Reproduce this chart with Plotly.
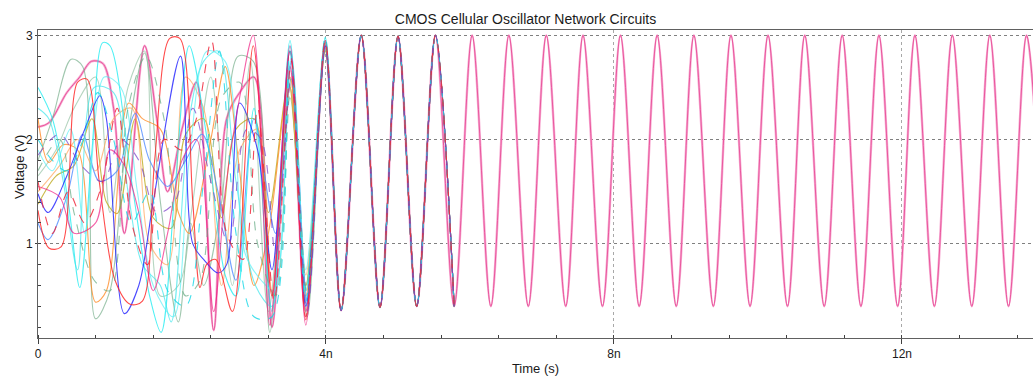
import plotly.graph_objects as go

# ---------------- data (time in ns, voltage in V) ----------------
# synchronized waveform (common to all cells after ~4 ns)
SYNC_PEAK_T = [3.99, 4.49, 5.00, 5.52, 6.03, 6.54, 7.06, 7.57, 8.09, 8.60, 9.11, 9.625,
               10.14, 10.65, 11.17, 11.68, 12.18, 12.70, 13.22, 13.73]
SYNC_PEAK_V = [2.98, 3.00, 2.99, 3.00, 3.00, 3.00, 3.00, 3.00, 3.00, 3.00, 3.00, 3.00,
               3.00, 3.00, 3.00, 3.00, 3.00, 3.00, 3.00, 3.00]
SYNC_TROUGH_T = [4.21, 4.75, 5.26, 5.78, 6.29, 6.81, 7.33, 7.84, 8.35, 8.865, 9.38, 9.89,
                 10.41, 10.92, 11.43, 11.94, 12.45, 12.97, 13.48, 13.99]
SYNC_TROUGH_V = [0.36, 0.39, 0.40, 0.40, 0.40, 0.40, 0.40, 0.40, 0.40, 0.40, 0.40, 0.40,
                 0.40, 0.40, 0.40, 0.40, 0.40, 0.40, 0.40, 0.40]
CHAOS_END_T = 5.78   # colored traces end here, only the pink cell continues

# individual cells during the unsynchronized phase
T_RED = [0, 0.15, 0.32, 0.55, 0.68, 0.85, 1.07, 1.28, 1.45, 1.62, 1.83, 1.97, 2.15, 2.25, 2.34, 2.47, 2.7, 2.99, 3.25, 3.5, 3.72, 3.99]
V_RED = [1.32, 0.96, 0.97, 2.55, 2.58, 1.6, 0.65, 0.42, 0.45, 1.8, 2.97, 2.97, 1.4, 0.58, 0.8, 0.85, 0.35, 2.9, 0.5, 2.85, 0.27, 2.95]
T_CYAN1 = [0, 0.2, 0.42, 0.58, 0.75, 0.9, 1.0, 1.3, 1.55, 1.71, 1.9, 2.1, 2.35, 2.6, 2.75, 3.0, 3.25, 3.5, 3.72, 3.99]
V_CYAN1 = [2.5, 2.2, 1.4, 0.58, 1.9, 2.93, 2.9, 1.6, 0.5, 0.15, 1.5, 2.9, 2.0, 0.7, 0.5, 2.3, 0.35, 2.95, 0.55, 2.98]
T_CYAN2 = [0, 0.15, 0.35, 0.55, 0.78, 1.05, 1.25, 1.45, 1.7, 1.85, 2.1, 2.3, 2.5, 2.75, 3.02, 3.25, 3.52, 3.74, 3.99]
V_CYAN2 = [2.3, 2.2, 1.6, 0.75, 2.5, 2.45, 1.5, 0.8, 0.6, 0.25, 2.2, 2.75, 2.85, 1.6, 0.6, 0.4, 2.8, 0.4, 2.95]
T_PINK = [0, 0.15, 0.4, 0.58, 0.74, 0.9, 1.05, 1.2, 1.48, 1.65, 1.8, 2.0, 2.2, 2.44, 2.62, 2.8, 3.0, 3.25, 3.5, 3.72, 3.99]
V_PINK = [2.12, 2.16, 2.45, 2.6, 2.75, 2.73, 2.3, 1.1, 2.9, 2.2, 1.5, 2.1, 2.55, 0.17, 2.2, 2.45, 2.6, 0.2, 2.7, 0.35, 2.9]
T_GREEN1 = [0, 0.2, 0.46, 0.62, 0.8, 1.0, 1.2, 1.48, 1.7, 1.95, 2.12, 2.3, 2.55, 2.78, 2.99, 3.22, 3.5, 3.74, 3.99]
V_GREEN1 = [1.8, 2.2, 2.77, 2.7, 0.28, 0.55, 1.8, 2.83, 1.4, 0.25, 1.2, 0.6, 1.4, 2.8, 2.75, 0.15, 2.5, 0.3, 2.92]
T_BLUE = [0, 0.14, 0.4, 0.65, 0.86, 0.95, 1.2, 1.4, 1.6, 1.98, 2.15, 2.3, 2.5, 2.62, 2.8, 3.05, 3.25, 3.5, 3.72, 3.99]
V_BLUE = [1.48, 1.3, 1.65, 2.1, 2.42, 2.2, 0.33, 0.6, 1.4, 2.8, 1.0, 0.85, 0.72, 0.8, 2.35, 1.9, 0.75, 2.85, 0.4, 2.9]
T_ORANGE = [0, 0.15, 0.35, 0.55, 0.8, 0.95, 1.26, 1.45, 1.7, 1.95, 2.1, 2.4, 2.6, 2.8, 3.0, 3.2, 3.5, 3.72, 3.99]
V_ORANGE = [2.2, 1.78, 1.95, 1.9, 0.44, 0.55, 2.35, 2.2, 2.1, 1.3, 1.1, 2.0, 2.7, 1.7, 0.6, 1.1, 2.6, 0.5, 2.88]
T_OLIVE = [0, 0.25, 0.5, 0.75, 0.95, 1.1, 1.35, 1.6, 1.85, 2.05, 2.3, 2.55, 2.75, 3.0, 3.2, 3.48, 3.72, 3.99]
V_OLIVE = [1.38, 1.65, 1.75, 2.2, 1.4, 1.29, 2.2, 1.25, 1.15, 2.05, 2.2, 1.25, 2.1, 2.2, 1.3, 2.55, 0.6, 2.85]
T_LBLUE = [0, 0.14, 0.4, 0.62, 0.85, 1.1, 1.35, 1.55, 1.8, 2.05, 2.28, 2.5, 2.75, 3.0, 3.3, 3.52, 3.74, 3.99]
V_LBLUE = [1.2, 1.04, 1.45, 2.05, 1.6, 1.7, 2.25, 1.8, 1.55, 1.8, 2.05, 1.5, 0.65, 2.2, 1.1, 2.75, 0.45, 2.9]
T_CYAN3 = [0, 0.2, 0.45, 0.65, 0.92, 1.15, 1.38, 1.6, 1.88, 2.1, 2.35, 2.6, 2.88, 3.1, 3.28, 3.5, 3.72, 3.99]
V_CYAN3 = [1.9, 1.7, 2.1, 1.1, 2.6, 2.5, 1.5, 0.6, 0.3, 1.8, 2.85, 2.75, 0.9, 0.65, 0.55, 2.9, 0.75, 2.97]
T_GREEN2 = [0, 0.3, 0.5, 0.78, 1.0, 1.25, 1.5, 1.75, 2.05, 2.25, 2.55, 2.8, 3.05, 3.3, 3.52, 3.74, 3.99]
V_GREEN2 = [1.7, 2.0, 1.3, 0.65, 0.55, 2.3, 2.8, 2.2, 0.5, 0.65, 2.4, 2.55, 1.0, 0.5, 2.6, 0.5, 2.9]
T_MAGENTA = [0, 0.3, 0.5, 0.8, 1.0, 1.2, 1.4, 1.6, 1.8, 2.0, 2.2, 2.44, 2.6, 2.8, 2.99, 3.22, 3.5, 3.72, 3.99]
V_MAGENTA = [1.55, 1.45, 1.1, 1.2, 1.9, 1.75, 1.3, 0.55, 1.1, 1.8, 2.0, 0.35, 1.5, 2.4, 3.0, 0.22, 2.9, 0.22, 2.95]
T_RED2 = [0, 0.2, 0.42, 0.65, 0.88, 1.1, 1.3, 1.52, 1.75, 2.0, 2.2, 2.41, 2.62, 2.85, 3.05, 3.28, 3.52, 3.72, 3.99]
V_RED2 = [1.6, 1.1, 1.5, 1.2, 1.55, 2.3, 1.2, 0.8, 2.0, 1.9, 2.2, 2.95, 1.1, 0.85, 2.3, 0.45, 2.75, 0.3, 2.95]
T_CYAN4 = [0, 0.2, 0.4, 0.6, 0.83, 1.05, 1.3, 1.55, 1.8, 2.05, 2.3, 2.52, 2.75, 3.0, 3.25, 3.5, 3.72, 3.99]
V_CYAN4 = [2.0, 1.8, 1.7, 1.95, 2.45, 2.0, 1.2, 1.5, 0.55, 0.4, 1.6, 2.85, 1.1, 0.3, 0.3, 2.85, 0.45, 2.98]
T_PURPLE = [0, 0.3, 0.6, 0.9, 1.15, 1.4, 1.65, 1.9, 2.15, 2.4, 2.65, 2.9, 3.1, 3.3, 3.52, 3.74, 3.99]
V_PURPLE = [1.85, 2.05, 1.75, 1.6, 2.0, 1.8, 1.3, 1.4, 2.3, 1.6, 1.0, 2.1, 2.0, 0.9, 2.6, 0.35, 2.88]
T_GREEN3 = [0, 0.25, 0.5, 0.8, 1.0, 1.25, 1.48, 1.7, 1.95, 2.15, 2.4, 2.7, 2.95, 3.2, 3.5, 3.72, 3.99]
V_GREEN3 = [1.65, 1.9, 2.3, 2.6, 1.3, 2.5, 2.85, 0.5, 0.6, 1.4, 2.6, 0.6, 2.75, 0.35, 2.4, 0.6, 2.85]
T_CORAL = [0, 0.3, 0.55, 0.8, 1.05, 1.3, 1.55, 1.8, 2.05, 2.3, 2.55, 2.8, 3.05, 3.25, 3.5, 3.72, 3.99]
V_CORAL = [1.5, 1.75, 2.0, 1.7, 2.2, 2.3, 1.0, 0.8, 2.6, 2.3, 0.6, 1.9, 2.1, 0.55, 2.5, 0.7, 2.9]

X_TICKS = [0, 4, 8, 12]
X_TICK_TEXT = ["0", "4n", "8n", "12n"]
Y_TICKS = [1, 2, 3]
Y_TICK_TEXT = ["1", "2", "3"]

# ---------------- build ----------------
sync_pts = sorted(list(zip(SYNC_PEAK_T[1:], SYNC_PEAK_V[1:])) + list(zip(SYNC_TROUGH_T, SYNC_TROUGH_V)))
sync_t = [p[0] for p in sync_pts]
sync_v = [p[1] for p in sync_pts]
short_t = [t for t in sync_t if t <= CHAOS_END_T]
short_v = sync_v[:len(short_t)]

chaos = [
    (T_GREEN1, V_GREEN1, "rgba(120,175,140,0.7)", "solid"),
    (T_GREEN3, V_GREEN3, "rgba(150,195,165,0.7)", "solid"),
    (T_OLIVE, V_OLIVE, "rgba(190,170,30,0.8)", "solid"),
    (T_ORANGE, V_ORANGE, "rgba(255,140,40,0.8)", "solid"),
    (T_CORAL, V_CORAL, "rgba(255,165,90,0.7)", "solid"),
    (T_LBLUE, V_LBLUE, "rgba(80,140,255,0.8)", "solid"),
    (T_CYAN1, V_CYAN1, "rgba(20,235,240,0.75)", "solid"),
    (T_CYAN2, V_CYAN2, "rgba(60,230,235,0.7)", "solid"),
    (T_CYAN3, V_CYAN3, "rgba(90,240,245,0.7)", "solid"),
    (T_BLUE, V_BLUE, "rgba(30,30,255,0.8)", "solid"),
    (T_RED, V_RED, "rgba(255,30,30,0.8)", "solid"),
    (T_MAGENTA, V_MAGENTA, "rgba(240,30,130,0.7)", "solid"),
    (T_GREEN2, V_GREEN2, "rgba(100,170,130,0.7)", "dash"),
    (T_PURPLE, V_PURPLE, "rgba(120,60,200,0.7)", "dash"),
    (T_CYAN4, V_CYAN4, "rgba(20,215,230,0.8)", "dash"),
    (T_RED2, V_RED2, "rgba(240,40,60,0.85)", "dash"),
]

fig = go.Figure()
# pink cell: light wide underlay + dark thin line, over the whole run
fig.add_trace(go.Scatter(
    x=T_PINK + sync_t, y=V_PINK + sync_v, mode="lines",
    line=dict(color="rgba(247,165,208,0.95)", width=2.4, shape="spline", smoothing=0.9),
    hoverinfo="skip", showlegend=False))
fig.add_trace(go.Scatter(
    x=T_PINK + sync_t, y=V_PINK + sync_v, mode="lines",
    line=dict(color="#E6418F", width=0.8, shape="spline", smoothing=0.9),
    hoverinfo="skip", showlegend=False))

for tt, vv, col, dash in chaos:
    fig.add_trace(go.Scatter(
        x=tt + short_t, y=vv + short_v, mode="lines",
        line=dict(color=col, width=1.1, dash=dash, shape="spline", smoothing=0.9),
        hoverinfo="skip", showlegend=False))

font_main = "Liberation Sans, Arial, sans-serif"
font_narrow = "Liberation Sans Narrow, Liberation Sans, Arial, sans-serif"

fig.update_layout(
    width=1033, height=378,
    margin=dict(l=38, r=0, t=30, b=40, pad=0),
    paper_bgcolor="white", plot_bgcolor="white",
    title=dict(text="CMOS Cellular Oscillator Network Circuits", x=0.49, xref="paper",
               y=1 - 19 / 378, yref="container", xanchor="center", yanchor="middle",
               font=dict(family=font_main, size=14, color="#1a1a1a")),
    xaxis=dict(
        range=[0, 13.82], tickvals=X_TICKS, ticktext=X_TICK_TEXT, automargin=False,
        ticks="outside", ticklen=5, tickcolor="#404040", tickwidth=1,
        showline=True, linecolor="#606060", linewidth=1, mirror=True,
        showgrid=True, gridcolor="#A8A8A8", griddash="dot", gridwidth=1, zeroline=False,
        minor=dict(dtick=0.8, ticks="inside", ticklen=3, tickcolor="#404040", showgrid=False),
        tickfont=dict(family=font_narrow, size=12, color="#1a1a1a"),
        title=dict(text="Time (s)", standoff=3, font=dict(family=font_narrow, size=13, color="#1a1a1a")),
    ),
    yaxis=dict(
        range=[0.096, 3.051], tickvals=Y_TICKS, ticktext=Y_TICK_TEXT, automargin=False,
        ticks="outside", ticklen=2, tickcolor="#404040", tickwidth=1,
        showline=True, linecolor="#606060", linewidth=1, mirror=False,
        showgrid=True, gridcolor="#808080", griddash="dot", gridwidth=1, zeroline=False,
        minor=dict(dtick=0.2, ticks="inside", ticklen=3, tickcolor="#404040", showgrid=False),
        tickfont=dict(family=font_narrow, size=12, color="#1a1a1a"),
    ),
    annotations=[dict(text="Voltage (V)", textangle=-90, xref="paper", yref="paper",
                      x=(19 - 38) / 995, y=(338 - 167) / 308, xanchor="center", yanchor="middle",
                      showarrow=False, font=dict(family=font_main, size=13, color="#1a1a1a"))],
)

fig.write_html("out.html", config={"displayModeBar": False},
               post_script="document.body.style.margin='0';document.body.style.overflow='hidden';")
